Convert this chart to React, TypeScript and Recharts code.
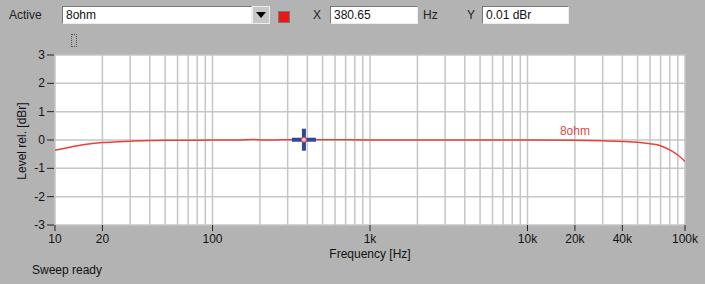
import { CartesianGrid, Line, LineChart, ReferenceDot, XAxis, YAxis } from 'recharts'

// measured sweep, 8 ohm load
const freqs = [10, 12, 15, 20, 25, 30, 40, 50, 70, 100, 150, 180, 210, 250, 300, 500, 1000, 2000, 5000, 10000, 20000, 30000, 40000, 50000, 60000, 70000, 80000, 90000, 100000]
const levels = [-0.36, -0.27, -0.17, -0.09, -0.06, -0.04, -0.02, -0.01, -0.01, 0, 0, 0.02, 0, 0, 0.01, 0.01, 0, 0, 0, 0, -0.01, -0.03, -0.05, -0.08, -0.13, -0.2, -0.35, -0.53, -0.76]

const gridDecades = [10, 100, 1000, 10000]
const gridSteps = [1, 2, 3, 4, 5, 6, 7, 8, 9]
const xLabelTicks = [10, 20, 100, 1000, 10000, 20000, 40000, 100000]
const xLabelText = ['10', '20', '100', '1k', '10k', '20k', '40k', '100k']
const yTicks = [-3, -2, -1, 0, 1, 2, 3]

const cursorX = 380.65
const cursorY = 0.01
const traceName = '8ohm'

const gridFreqs = [...gridDecades.flatMap((d) => gridSteps.map((s) => d * s)), 100000]
const data = freqs.map((f, i) => ({ f, level: levels[i] }))

const FONT = '"Liberation Sans", Arial, sans-serif'
const BG = '#b3b3b3'
const RED = '#e8403a'

function XTick({ x, y, payload }: any) {
  const idx = xLabelTicks.indexOf(payload.value)
  if (idx < 0) return null
  return (
    <g>
      <line x1={x} x2={x} y1={y} y2={y + 6} stroke="#222" />
      <text x={x} y={y + 18} textAnchor="middle" fontSize={12} fill="#111" fontFamily={FONT}>
        {xLabelText[idx]}
      </text>
    </g>
  )
}

function YTick({ x, y, payload }: any) {
  return (
    <g>
      <line x1={x - 8} x2={x - 1} y1={y} y2={y} stroke="#222" />
      <text x={x - 10} y={y + 4} textAnchor="end" fontSize={12} fill="#111" fontFamily={FONT}>
        {String(payload.value)}
      </text>
    </g>
  )
}

function CursorMark({ cx, cy }: any) {
  return (
    <g>
      <rect x={cx - 12} y={cy - 2} width={24} height={4} fill="#2c4a9c" />
      <rect x={cx - 2} y={cy - 11} width={4} height={22} fill="#2c4a9c" />
      <circle cx={cx} cy={cy} r={2.5} fill="#f4c0c0" stroke={RED} strokeWidth={1} />
    </g>
  )
}

const inputStyle: React.CSSProperties = {
  position: 'absolute',
  top: 6,
  height: 18,
  background: '#fff',
  borderTop: '1px solid #777',
  borderLeft: '1px solid #777',
  borderRight: '1px solid #eee',
  borderBottom: '1px solid #eee',
  boxSizing: 'border-box',
  fontSize: 12,
  lineHeight: '16px',
  paddingLeft: 3,
  color: '#111',
}

const labelStyle: React.CSSProperties = {
  position: 'absolute',
  top: 8,
  fontSize: 12,
  color: '#222',
}

export default function App() {
  return (
    <div style={{ position: 'absolute', left: 0, top: 0, width: 705, height: 284, background: BG, fontFamily: FONT, overflow: 'hidden' }}>
      <div style={{ ...labelStyle, left: 9 }}>Active</div>
      <div style={{ ...inputStyle, left: 62, width: 190 }}>{traceName}</div>
      <div style={{ position: 'absolute', left: 252, top: 6, width: 18, height: 18, background: '#c8c8c8', boxSizing: 'border-box', border: '1px solid #eee' }}>
        <div style={{ position: 'absolute', left: 3, top: 5, width: 0, height: 0, borderLeft: '5px solid transparent', borderRight: '5px solid transparent', borderTop: '6px solid #000' }} />
      </div>
      <div style={{ position: 'absolute', left: 278, top: 11, width: 12, height: 12, background: '#e81818', border: '1px solid #777', boxSizing: 'border-box' }} />
      <div style={{ ...labelStyle, left: 313 }}>X</div>
      <div style={{ ...inputStyle, left: 330, width: 88 }}>{String(cursorX)}</div>
      <div style={{ ...labelStyle, left: 423 }}>Hz</div>
      <div style={{ ...labelStyle, left: 467 }}>Y</div>
      <div style={{ ...inputStyle, left: 482, width: 87 }}>{cursorY.toFixed(2)} dBr</div>
      <div style={{ position: 'absolute', left: 71, top: 34, width: 4, height: 11, border: '1px dotted #555' }} />

      <div style={{ position: 'absolute', left: 0, top: 0 }}>
        <LineChart width={705} height={284} data={data} margin={{ top: 55, right: 20, bottom: 29, left: 15 }}>
          <CartesianGrid fill="#fff" stroke="#c6c6c6" strokeWidth={1.5} verticalValues={gridFreqs} horizontalValues={yTicks} />
          <XAxis
            dataKey="f"
            type="number"
            scale="log"
            domain={[10, 100000]}
            ticks={gridFreqs}
            allowDataOverflow
            axisLine={false}
            tickLine={false}
            tickSize={0}
            tickMargin={0}
            height={30}
            interval={0}
            tick={<XTick />}
          />
          <YAxis
            type="number"
            domain={[-3, 3]}
            ticks={yTicks}
            axisLine={false}
            tickLine={false}
            tickSize={0}
            tickMargin={0}
            width={40}
            interval={0}
            tick={<YTick />}
          />
          <Line dataKey="level" type="monotone" stroke={RED} strokeWidth={1.5} dot={false} isAnimationActive={false} />
          <ReferenceDot x={20000} y={0} r={0} fill="none" stroke="none" label={{ value: traceName, position: 'top', fill: '#e04848', fontSize: 12, fontFamily: FONT }} />
          <ReferenceDot x={cursorX} y={cursorY} shape={<CursorMark />} />
        </LineChart>
      </div>

      <div style={{ position: 'absolute', left: 0, top: 0, width: 705, height: 284, pointerEvents: 'none' }}>
        <div style={{ position: 'absolute', left: 22, top: 141, transform: 'translate(-50%, -50%) rotate(-90deg)', fontSize: 12, color: '#111', whiteSpace: 'nowrap' }}>
          Level rel. [dBr]
        </div>
        <div style={{ position: 'absolute', left: 370, top: 247, transform: 'translateX(-50%)', fontSize: 12, color: '#111', whiteSpace: 'nowrap' }}>
          Frequency [Hz]
        </div>
        <div style={{ position: 'absolute', left: 32, top: 263, fontSize: 12, color: '#111' }}>Sweep ready</div>
      </div>
    </div>
  )
}
